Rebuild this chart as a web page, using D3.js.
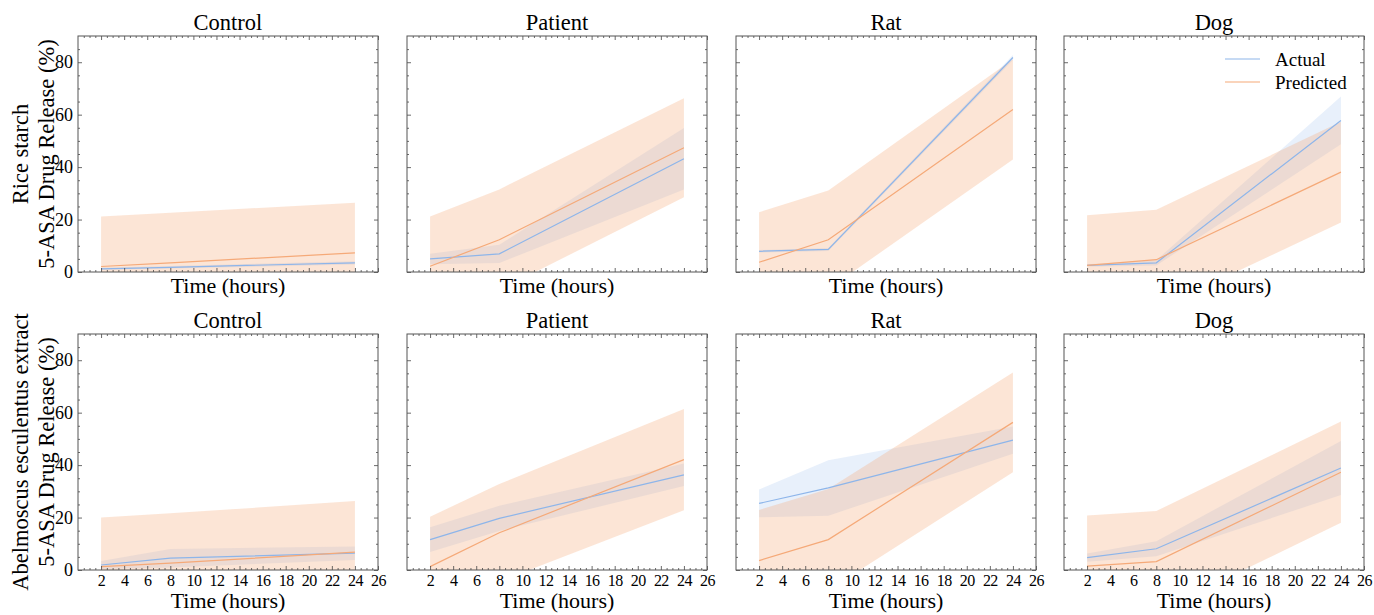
<!DOCTYPE html>
<html>
<head>
<meta charset="utf-8">
<script src="https://cdn.jsdelivr.net/npm/d3@7"></script>
<style>
  body { margin: 0; background: #fff; }
  svg text { font-family: "Liberation Serif", "DejaVu Serif", serif !important; fill: #000; }
</style>
</head>
<body>
<svg id="chart" width="1374" height="615"></svg>
<script>
// sampling times (hours)
var hours = [2, 8, 24];
var groups = ["Control", "Patient", "Rat", "Dog"];
var materials = ["Rice starch", "Abelmoscus esculentus extract"];
var xTicks = [2, 4, 6, 8, 10, 12, 14, 16, 18, 20, 22, 24, 26];
var yTicks = [0, 20, 40, 60, 80];

// rice starch: one row per group (Control, Patient, Rat, Dog), values at 2, 8, 24 h
var riceActual = [[1.2, 1.8, 3.5], [5.0, 6.9, 43.2], [7.9, 8.6, 81.8], [2.5, 3.5, 57.8]];
var riceActualSd = [[0.4, 0.5, 0.6], [2.0, 3.5, 11.7], [0.5, 0.6, 1.0], [0.5, 1.0, 9.1]];
var ricePredicted = [[2.1, 3.5, 7.3], [2.2, 12.3, 47.4], [3.7, 12.3, 62.0], [2.5, 4.7, 38.1]];
var ricePredictedSd = [[19.1, 19.1, 19.1], [19.0, 19.2, 18.9], [19.1, 18.8, 19.1], [19.1, 19.0, 19.2]];

// abelmoscus esculentus extract
var abelActual = [[1.9, 4.5, 6.4], [11.6, 19.7, 36.3], [25.4, 31.3, 49.5], [4.7, 8.1, 38.9]];
var abelActualSd = [[1.5, 3.5, 2.6], [4.7, 4.8, 4.3], [5.3, 10.6, 5.2], [1.6, 2.9, 10.3]];
var abelPredicted = [[1.3, 2.6, 6.8], [1.3, 14.2, 42.1], [3.6, 11.6, 56.3], [1.5, 3.2, 37.3]];
var abelPredictedSd = [[18.7, 19.0, 19.5], [19.0, 18.6, 19.3], [19.3, 19.3, 19.0], [19.3, 19.3, 19.3]];

var rows = [
    {actual: riceActual, actualSd: riceActualSd, pred: ricePredicted, predSd: ricePredictedSd},
    {actual: abelActual, actualSd: abelActualSd, pred: abelPredicted, predSd: abelPredictedSd}
];

var colActual = "#8db5ea";
var colPred = "#f5a978";
var serif = "Liberation Serif, DejaVu Serif, serif";

var w = 300, h = 236;
var lefts = [78, 407, 736, 1064];
var tops = [36, 334];

var svg = d3.select("#chart").style("font-family", serif);

var x = d3.scaleLinear().domain([0, 26]).range([0, w]);
var y = d3.scaleLinear().domain([0, 90]).range([h, 0]);

var xMinor = d3.range(0.5, 26, 0.5).filter(function (v) { return v % 2 !== 0; });
var yMinor = d3.range(5, 90, 5).filter(function (v) { return v % 20 !== 0; });

function toPoints(mean, sd) {
    return hours.map(function (t, i) {
        return {t: t, m: mean[i], lo: mean[i] - sd[i], hi: mean[i] + sd[i]};
    });
}

var area = d3.area()
        .x(function (d) { return x(d.t); })
        .y0(function (d) { return y(d.lo); })
        .y1(function (d) { return y(d.hi); });
var line = d3.line()
        .x(function (d) { return x(d.t); })
        .y(function (d) { return y(d.m); });

function styleAxis(sel) {
    sel.attr("font-family", serif);
    sel.select(".domain").remove();
    sel.selectAll(".tick line").attr("stroke", "#444").attr("stroke-width", 0.8);
    sel.selectAll("text").style("font-family", serif).attr("fill", "#000");
}

function label(g) {
    return g.append("text").style("font-family", serif).attr("fill", "#000");
}

rows.forEach(function (row, r) {
    groups.forEach(function (name, c) {
        var g = svg.append("g").attr("transform", "translate(" + lefts[c] + "," + tops[r] + ")");
        var clipId = "clip" + r + "_" + c;
        g.append("clipPath").attr("id", clipId)
                .append("rect").attr("width", w).attr("height", h);

        var plot = g.append("g").attr("clip-path", "url(#" + clipId + ")");
        var act = toPoints(row.actual[c], row.actualSd[c]);
        var pred = toPoints(row.pred[c], row.predSd[c]);

        // bands first, lines on top
        plot.append("path").attr("d", area(act)).attr("fill", colActual).attr("fill-opacity", 0.2);
        plot.append("path").attr("d", area(pred)).attr("fill", colPred).attr("fill-opacity", 0.3);
        plot.append("path").attr("d", line(act)).attr("fill", "none").attr("stroke", colActual).attr("stroke-width", 1.2);
        plot.append("path").attr("d", line(pred)).attr("fill", "none").attr("stroke", colPred).attr("stroke-width", 1.2);

        // ticks on all four sides, pointing inward
        var bottom = g.append("g").attr("transform", "translate(0," + h + ")")
                .call(d3.axisBottom(x).tickValues(xTicks).tickSizeInner(-4).tickSizeOuter(0).tickPadding(5)
                        .tickFormat(r === 1 ? d3.format("d") : ""));
        styleAxis(bottom);
        bottom.selectAll("text").style("font-size", "16px").style("letter-spacing", "-0.6px");
        styleAxis(g.append("g").attr("transform", "translate(0," + h + ")")
                .call(d3.axisBottom(x).tickValues(xMinor).tickSizeInner(-2).tickSizeOuter(0).tickFormat("")));
        styleAxis(g.append("g")
                .call(d3.axisTop(x).tickValues(xTicks).tickSizeInner(-4).tickSizeOuter(0).tickFormat("")));
        styleAxis(g.append("g")
                .call(d3.axisTop(x).tickValues(xMinor).tickSizeInner(-2).tickSizeOuter(0).tickFormat("")));

        var left = g.append("g")
                .call(d3.axisLeft(y).tickValues(yTicks).tickSizeInner(-4).tickSizeOuter(0).tickPadding(5)
                        .tickFormat(c === 0 ? d3.format("d") : ""));
        styleAxis(left);
        left.selectAll("text").style("font-size", "18px");
        styleAxis(g.append("g")
                .call(d3.axisLeft(y).tickValues(yMinor).tickSizeInner(-2).tickSizeOuter(0).tickFormat("")));
        styleAxis(g.append("g").attr("transform", "translate(" + w + ",0)")
                .call(d3.axisRight(y).tickValues(yTicks).tickSizeInner(-4).tickSizeOuter(0).tickFormat("")));
        styleAxis(g.append("g").attr("transform", "translate(" + w + ",0)")
                .call(d3.axisRight(y).tickValues(yMinor).tickSizeInner(-2).tickSizeOuter(0).tickFormat("")));

        g.append("rect").attr("width", w).attr("height", h)
                .attr("fill", "none").attr("stroke", "#555").attr("stroke-width", 1);

        label(g).attr("x", w / 2).attr("y", -6)
                .attr("text-anchor", "middle").style("font-size", "22.5px").text(name);

        label(g).attr("x", w / 2).attr("y", r === 1 ? h + 38 : h + 21)
                .attr("text-anchor", "middle").style("font-size", "22px").text("Time (hours)");

        if (c === 0) {
            var lab = label(g)
                    .attr("transform", "translate(" + (-24) + "," + (h / 2) + ") rotate(-90)")
                    .attr("text-anchor", "middle").style("font-size", "22.5px");
            lab.append("tspan").attr("x", 0).attr("dy", -26).text(materials[r]);
            lab.append("tspan").attr("x", 0).attr("dy", 26).text("5-ASA Drug Release (%)");
        }

        if (r === 0 && c === 3) {
            var legend = g.append("g").attr("transform", "translate(161,23)");
            [["Actual", colActual], ["Predicted", colPred]].forEach(function (e, i) {
                legend.append("line").attr("x1", 0).attr("x2", 35)
                        .attr("y1", i * 23).attr("y2", i * 23)
                        .attr("stroke", e[1]).attr("stroke-width", 1.2);
                label(legend).attr("x", 50).attr("y", i * 23 + 6.5)
                        .style("font-size", "19px").text(e[0]);
            });
        }
    });
});
</script>
</body>
</html>
